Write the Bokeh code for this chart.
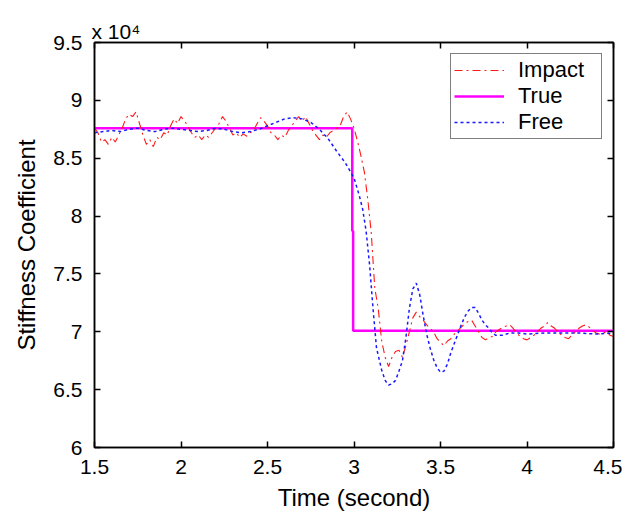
from bokeh.plotting import figure
from bokeh.models import (Legend, LegendItem, LinearAxis, FixedTicker, Range1d,
                          CustomJSTickFormatter)
from bokeh.embed import file_html
from bokeh.resources import INLINE

# ---- data (values in units of 1e4) ----
impact_t = [1.50, 1.52, 1.54, 1.56, 1.58, 1.60, 1.62, 1.64, 1.66, 1.68, 1.70, 1.72, 1.74, 1.76, 1.78,
            1.80, 1.82, 1.84, 1.86, 1.88, 1.90, 1.92, 1.94, 1.96, 1.98, 2.00, 2.02, 2.04, 2.06, 2.08,
            2.10, 2.12, 2.14, 2.16, 2.18, 2.20, 2.22, 2.24, 2.26, 2.28, 2.30, 2.32, 2.34, 2.36, 2.38,
            2.40, 2.42, 2.44, 2.46, 2.48, 2.50, 2.52, 2.54, 2.56, 2.58, 2.60, 2.62, 2.64, 2.66, 2.68,
            2.70, 2.72, 2.74, 2.76, 2.78, 2.80, 2.82, 2.84, 2.86, 2.88, 2.90, 2.92, 2.94, 2.96, 2.98,
            3.00, 3.02, 3.04, 3.06, 3.08, 3.10, 3.12, 3.14, 3.16, 3.18, 3.20, 3.22, 3.24, 3.26, 3.28,
            3.30, 3.32, 3.34, 3.36, 3.38, 3.40, 3.42, 3.44, 3.46, 3.48, 3.50, 3.52, 3.54, 3.56, 3.58,
            3.60, 3.62, 3.64, 3.66, 3.68, 3.70, 3.72, 3.74, 3.76, 3.78, 3.80, 3.82, 3.84, 3.86, 3.88,
            3.90, 3.92, 3.94, 3.96, 3.98, 4.00, 4.02, 4.04, 4.06, 4.08, 4.10, 4.12, 4.14, 4.16, 4.18,
            4.20, 4.22, 4.24, 4.26, 4.28, 4.30, 4.32, 4.34, 4.36, 4.38, 4.40, 4.42, 4.44, 4.46, 4.48,
            4.50]
impact_k = [8.76, 8.72, 8.64, 8.66, 8.62, 8.68, 8.64, 8.70, 8.76, 8.84, 8.88, 8.86, 8.90, 8.80, 8.70,
            8.62, 8.66, 8.60, 8.68, 8.66, 8.72, 8.70, 8.78, 8.84, 8.80, 8.86, 8.82, 8.78, 8.72, 8.68,
            8.70, 8.66, 8.70, 8.68, 8.72, 8.76, 8.80, 8.86, 8.82, 8.76, 8.70, 8.72, 8.68, 8.71, 8.69,
            8.72, 8.74, 8.80, 8.85, 8.82, 8.78, 8.72, 8.70, 8.66, 8.70, 8.68, 8.74, 8.78, 8.82, 8.86,
            8.82, 8.86, 8.80, 8.74, 8.70, 8.66, 8.70, 8.68, 8.72, 8.74, 8.76, 8.78, 8.86, 8.90, 8.84,
            8.76, 8.65, 8.52, 8.38, 8.14, 7.85, 7.38, 7.20, 6.92, 6.78, 6.70, 6.78, 6.83, 6.84, 6.78,
            6.88, 7.00, 7.12, 7.17, 7.13, 7.10, 7.06, 7.03, 7.00, 6.94, 6.91, 6.88, 6.92, 6.94, 6.98,
            7.01, 7.04, 7.07, 7.09, 7.10, 7.05, 7.00, 6.95, 6.93, 6.95, 6.96, 7.00, 7.02, 7.04, 7.05,
            7.06, 7.03, 6.99, 6.96, 6.94, 6.93, 6.95, 6.97, 7.00, 7.03, 7.05, 7.08, 7.05, 7.03, 7.00,
            6.97, 6.95, 6.94, 6.97, 7.00, 7.03, 7.05, 7.06, 7.04, 7.01, 6.99, 6.98, 6.99, 7.00, 6.97,
            6.96]

true_t = [1.50, 2.99, 2.99, 2.995, 2.995, 4.50]
true_k = [8.76, 8.76, 7.87, 7.87, 7.01, 7.01]

free_t = [1.50, 1.55, 1.60, 1.65, 1.70, 1.75, 1.80, 1.85, 1.90, 1.95, 2.00, 2.05, 2.10, 2.15, 2.20,
          2.25, 2.30, 2.35, 2.40, 2.45, 2.50, 2.55, 2.60, 2.65, 2.70, 2.75, 2.80, 2.85, 2.90, 2.95,
          3.00, 3.03, 3.05, 3.07, 3.09, 3.11, 3.13, 3.16, 3.18, 3.20, 3.22, 3.24, 3.26, 3.28, 3.30,
          3.32, 3.34, 3.36, 3.38, 3.40, 3.42, 3.44, 3.46, 3.48, 3.50, 3.52, 3.54, 3.56, 3.58, 3.60,
          3.62, 3.64, 3.66, 3.68, 3.70, 3.72, 3.74, 3.76, 3.78, 3.80, 3.82, 3.86, 3.90, 3.95, 4.00,
          4.10, 4.20, 4.30, 4.40, 4.50]
free_k = [8.72, 8.73, 8.74, 8.73, 8.75, 8.76, 8.74, 8.73, 8.75, 8.76, 8.75, 8.74, 8.73, 8.74, 8.76,
          8.75, 8.73, 8.72, 8.73, 8.75, 8.78, 8.81, 8.84, 8.85, 8.84, 8.81, 8.75, 8.67, 8.56, 8.46,
          8.33, 8.18, 8.06, 7.87, 7.58, 7.20, 6.86, 6.67, 6.58, 6.54, 6.55, 6.58, 6.66, 6.75, 6.95,
          7.20, 7.37, 7.42, 7.32, 7.14, 6.98, 6.86, 6.76, 6.69, 6.65, 6.66, 6.72, 6.82, 6.90, 6.98,
          7.06, 7.13, 7.18, 7.21, 7.21, 7.16, 7.10, 7.06, 7.03, 6.99, 6.97, 6.97, 6.99, 6.99, 6.98,
          6.99, 6.99, 6.99, 6.98, 6.99]

x_ticks = [1.5, 2, 2.5, 3, 3.5, 4, 4.5]
y_ticks = [6, 6.5, 7, 7.5, 8, 8.5, 9, 9.5]
x_tick_labels = {1.5: "1.5", 2: "2", 2.5: "2.5", 3: "3", 3.5: "3.5", 4: "4", 4.5: "4.5"}
y_tick_labels = {6: "6", 6.5: "6.5", 7: "7", 7.5: "7.5", 8: "8", 8.5: "8.5", 9: "9", 9.5: "9.5"}
exponent_text = "x 10\u2074"

FONT = "Liberation Sans"

p = figure(frame_width=519, frame_height=405, output_backend="svg", toolbar_location=None,
           x_range=Range1d(1.5, 4.5), y_range=Range1d(6, 9.5),
           min_border_left=94, min_border_right=9, min_border_top=42, min_border_bottom=64)
p.xgrid.visible = False
p.ygrid.visible = False
p.outline_line_color = "black"
p.outline_line_width = 1.5
p.background_fill_color = "white"
p.border_fill_color = "white"

# exponent shown as a left-aligned title
p.title.text = exponent_text
p.title.align = "left"
p.title.offset = -3
p.title.standoff = 0
p.title.text_font = FONT
p.title.text_font_size = "21px"
p.title.text_font_style = "normal"
p.title.text_color = "black"

r_true = p.line(true_t, true_k, line_color="#ff00ff", line_width=2.5)
r_imp = p.line(impact_t, impact_k, line_color="#ff1a1a", line_width=1.1, line_dash="8 4 2 4")
r_free = p.line(free_t, free_k, line_color="#1a1aff", line_width=1.5, line_dash="3 3")


def style_axis(ax, ticks, labels, show_labels=True):
    ax.ticker = FixedTicker(ticks=ticks)
    ax.major_tick_in = 6
    ax.major_tick_out = 0
    ax.minor_tick_line_color = None
    ax.axis_line_color = "black"
    ax.axis_line_width = 1.5
    ax.major_tick_line_width = 1.5
    ax.major_label_text_font = FONT
    ax.major_label_text_font_size = "21px"
    ax.major_label_text_color = "black"
    ax.major_label_standoff = 12
    if show_labels:
        ax.major_label_overrides = labels
    else:
        ax.formatter = CustomJSTickFormatter(code="return ''")


style_axis(p.xaxis[0], x_ticks, x_tick_labels)
style_axis(p.yaxis[0], y_ticks, y_tick_labels)
p.xaxis[0].major_label_standoff = 12
p.xaxis[0].axis_label = "Time (second)"
p.yaxis[0].axis_label = "Stiffness Coefficient"
for ax in (p.xaxis[0], p.yaxis[0]):
    ax.axis_label_text_font = FONT
    ax.axis_label_text_font_size = "24px"
    ax.axis_label_text_font_style = "normal"
    ax.axis_label_text_color = "black"
p.xaxis[0].axis_label_standoff = 7
p.yaxis[0].axis_label_standoff = 10

top_ax = LinearAxis()
style_axis(top_ax, x_ticks, x_tick_labels, show_labels=False)
top_ax.major_label_standoff = 0
top_ax.major_label_text_font_size = "1px"
p.add_layout(top_ax, "above")
right_ax = LinearAxis()
style_axis(right_ax, y_ticks, y_tick_labels, show_labels=False)
right_ax.major_label_standoff = 0
right_ax.major_label_text_font_size = "1px"
p.add_layout(right_ax, "right")

legend = Legend(items=[LegendItem(label="Impact", renderers=[r_imp]),
                       LegendItem(label="True", renderers=[r_true]),
                       LegendItem(label="Free", renderers=[r_free])],
                location="top_right")
legend.label_text_font = FONT
legend.label_text_font_size = "22px"
legend.label_text_color = "black"
legend.border_line_color = "black"
legend.border_line_width = 1
legend.background_fill_alpha = 1
legend.margin = 11
legend.padding = 3
legend.spacing = 0
legend.glyph_width = 50
legend.label_standoff = 14
legend.label_width = 80
legend.label_height = 20
legend.glyph_height = 20
p.add_layout(legend)

open("out.html", "w").write(file_html(p, INLINE))
